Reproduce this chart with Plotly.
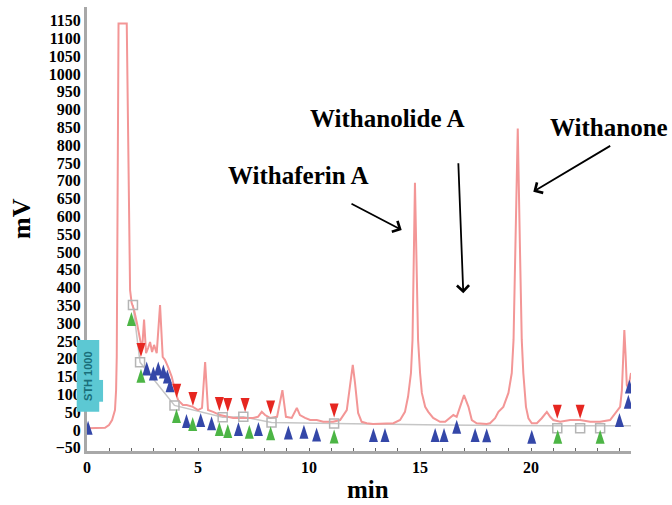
import plotly.graph_objects as go

# ---------------- data ----------------
time_min = [0.0, 0.59, 0.81, 0.99, 1.13, 1.26, 1.31, 1.34, 1.35, 1.42, 1.79, 1.94,
            2.01, 2.12, 2.25, 2.39, 2.48, 2.57, 2.66, 2.75, 2.84, 2.93, 3.02, 3.14,
            3.29, 3.41, 3.51, 3.65, 3.82, 3.96, 4.10, 4.32, 4.49, 4.77, 5.00, 5.18,
            5.32, 5.45, 5.68, 5.99, 6.29, 6.58, 7.19, 7.48, 7.70, 7.87, 8.02, 8.24,
            8.56, 8.80, 8.96, 9.22, 9.45, 9.59, 9.82, 10.05, 10.35, 10.64, 11.08, 11.40,
            11.70, 11.85, 11.97, 12.07, 12.21, 12.37, 12.60, 12.88, 13.50, 13.80, 14.10, 14.32,
            14.46, 14.59, 14.66, 14.73, 14.77, 14.83, 14.91, 15.00, 15.08, 15.23, 15.37, 15.59,
            15.90, 16.13, 16.35, 16.50, 16.65, 16.80, 16.98, 17.18, 17.33, 17.55, 18.00, 18.15,
            18.38, 18.53, 18.75, 18.98, 19.13, 19.21, 19.30, 19.40, 19.50, 19.58, 19.65, 19.77,
            19.88, 20.03, 20.26, 20.48, 20.71, 20.86, 21.00, 21.31, 21.76, 22.21, 22.66, 23.11,
            23.56, 23.86, 24.01, 24.09, 24.16, 24.20, 24.26, 24.31, 24.37, 24.50]
signal_mv = [5, 5, 6, 14, 28, 56, 112, 206, 393, 1142, 1142, 393,
             357, 337, 300, 253, 225, 310, 216, 230, 247, 219, 239, 216,
             351, 205, 197, 177, 149, 112, 84, 70, 70, 65, 56, 62,
             191, 56, 51, 42, 37, 34, 34, 34, 37, 51, 42, 34,
             37, 112, 37, 34, 62, 42, 34, 28, 28, 23, 23, 28,
             56, 132, 183, 132, 48, 23, 19, 17, 17, 19, 28, 51,
             94, 160, 253, 506, 694, 506, 253, 160, 104, 65, 51, 34,
             23, 23, 34, 42, 37, 65, 98, 65, 28, 19, 17, 19,
             33, 51, 65, 104, 160, 253, 506, 847, 506, 253, 160, 65,
             33, 19, 19, 33, 51, 37, 28, 23, 28, 28, 23, 23,
             28, 51, 65, 112, 206, 281, 206, 126, 118, 160]

baseline_t = [2.07, 2.39, 3.94, 6.11, 7.04, 8.31, 11.13, 16.0, 21.18, 22.21, 23.11, 24.5]
baseline_mv = [351, 190, 69, 36, 37, 21, 18, 14, 12, 12, 12, 12]

blue_t = [0.05, 2.69, 2.99, 3.21, 3.44, 3.62, 3.74, 4.48, 5.12, 5.61, 6.82, 7.72,
          9.07, 9.77, 10.34, 12.90, 13.42, 15.68, 16.08, 16.65, 17.48, 18.00, 20.03,
          23.98, 24.38, 24.43]
blue_mv = [6, 173, 159, 173, 164, 150, 126, 25, 28, 19, 3, 3,
           -7, -5, -13, -14, -14, -14, -14, 9, -14, -15, -19,
           28, 79, 122]

green_t = [2.00, 2.43, 4.03, 4.76, 5.96, 6.34, 7.31, 8.27, 11.13, 21.20, 23.11]
green_mv = [312, 152, 39, 17, 3, -3, -5, -9, -18, -19, -19]

red_t = [2.43, 4.04, 4.77, 5.96, 6.34, 7.12, 8.27, 11.13, 21.18, 22.21]
red_mv = [225, 110, 87, 73, 70, 70, 63, 55, 51, 51]

square_t = [2.07, 2.39, 3.94, 6.11, 7.04, 8.31, 11.13, 21.18, 22.21, 23.11]
square_mv = [351, 190, 69, 36, 37, 21, 18, 5, 5, 5]

y_tick_values = list(range(-50, 1151, 50))
x_tick_values = [0, 5, 10, 15, 20]

peak_labels = ["Withaferin A", "Withanolide A", "Withanone"]

# ---------------- styles ----------------
SERIF = "Liberation Serif, Times New Roman, serif"
BLUE = "#3447a8"
GREEN = "#4cb545"
RED = "#e62620"
UP = "M-4.5,-7 L4.5,-7 L0,7 Z"
DOWN = "M-4.5,7 L4.5,7 L0,-7 Z"
BOLD = dict(family=SERIF, color="black", weight="bold")

fig = go.Figure()
fig.add_trace(go.Scatter(x=baseline_t, y=baseline_mv, mode="lines",
                         line=dict(color="#c6c6c6", width=1.5), hoverinfo="skip"))
fig.add_trace(go.Scatter(x=time_min, y=signal_mv, mode="lines",
                         line=dict(color="rgb(243,150,150)", width=2)))
fig.add_trace(go.Scatter(x=square_t, y=square_mv, mode="markers",
                         marker=dict(symbol="square-open", size=9, color="#b5b5b5",
                                     line=dict(width=1.5))))

shapes = []
for xs, ys, col, p in [(blue_t, blue_mv, BLUE, UP), (green_t, green_mv, GREEN, UP),
                       (red_t, red_mv, RED, DOWN)]:
    for t, v in zip(xs, ys):
        shapes.append(dict(type="path", xref="x", yref="y", xsizemode="pixel",
                           ysizemode="pixel", xanchor=t, yanchor=v, path=p,
                           fillcolor=col, line=dict(width=0), layer="above"))

# cyan label box on the y axis
shapes.append(dict(type="rect", xref="paper", yref="paper", x0=-0.0189, x1=0.0225,
                   y0=0.0885, y1=0.25, fillcolor="#5cc8d3", line=dict(width=0),
                   layer="above"))
shapes.append(dict(type="rect", xref="paper", yref="paper", x0=0.02, x1=0.0295,
                   y0=0.111, y1=0.16, fillcolor="#5cc8d3", line=dict(width=0),
                   layer="above"))


def label(text, x, y, size, xanchor="center", angle=0, **kw):
    return dict(text=text, xref="paper", yref="paper", x=x, y=y, xanchor=xanchor,
                yanchor="middle", showarrow=False, textangle=angle,
                font=dict(BOLD, size=size, **kw))


def arrow(x, y, ax, ay):
    return dict(text="", xref="paper", yref="paper", x=x, y=y, ax=ax, ay=ay,
                showarrow=True, arrowhead=4, arrowsize=1.3, arrowwidth=1.8,
                arrowcolor="black")


annotations = [
    dict(text="STH 1000", xref="paper", yref="paper", x=0.0018, y=0.169,
         xanchor="center", yanchor="middle", showarrow=False, textangle=-90,
         font=dict(family="Liberation Sans, Arial", size=11, color="#1a6f7a",
                   weight="bold")),
    label(peak_labels[0], 0.3879, 0.6216, 25),
    label(peak_labels[1], 0.5506, 0.75, 25),
    label(peak_labels[2], 0.8474, 0.7275, 25, xanchor="left"),
    arrow(0.5785, 0.4977, -51.7, -27),
    arrow(0.6917, 0.3552, -5, -131.6),
    arrow(0.8204, 0.584, 78.4, -46.7),
    label("mV", -0.1195, 0.5248, 26, angle=-90),
    label("min", 0.5165, -0.086, 25),
]

fig.update_layout(
    width=672, height=505,
    margin=dict(l=87, r=41, t=7, b=54),
    paper_bgcolor="white", plot_bgcolor="white",
    showlegend=False,
    shapes=shapes,
    annotations=annotations,
    xaxis=dict(range=[0, 24.5], tickvals=x_tick_values, showgrid=False, zeroline=False,
               showline=True, linecolor="#a8a8a8", linewidth=3,
               ticks="inside", ticklen=3, tickcolor="#666",
               minor=dict(dtick=1, ticks="inside", ticklen=3, tickcolor="#666"),
               tickfont=dict(BOLD, size=16)),
    yaxis=dict(range=[-59, 1188], tickvals=y_tick_values, showgrid=False, zeroline=False,
               showline=True, linecolor="#a8a8a8", linewidth=3, ticks="",
               tickfont=dict(BOLD, size=16)),
)

fig.write_html("out.html", config={"displayModeBar": False},
               post_script="document.body.style.margin='0px';")
